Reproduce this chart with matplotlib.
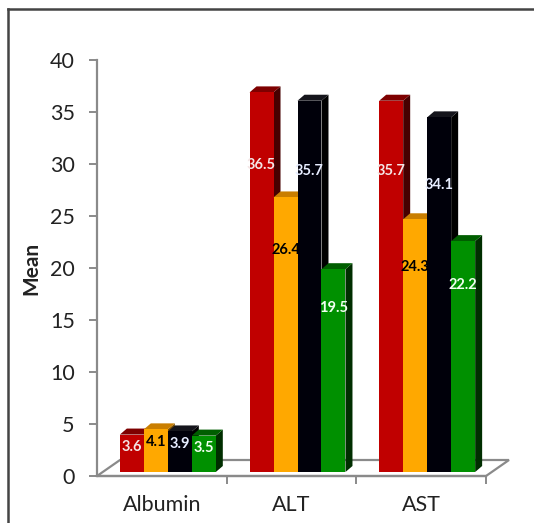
import matplotlib
matplotlib.use("Agg")
import matplotlib.pyplot as plt
from matplotlib.transforms import ScaledTranslation
from matplotlib.patches import Polygon
from matplotlib.lines import Line2D
import numpy as np

plt.rcParams['font.family'] = ['Lato', 'DejaVu Sans']

# ---- data ----
categories = ["Albumin", "ALT", "AST"]
series_red = [3.6, 36.5, 35.7]
series_orange = [4.1, 26.4, 24.3]
series_black = [3.9, 35.7, 34.1]
series_green = [3.5, 19.5, 22.2]
y_ticks = [0, 5, 10, 15, 20, 25, 30, 35, 40]

series = [series_red, series_orange, series_black, series_green]
# (front, top, side, label colour)
palette = [
    ("#C00000", "#7E0000", "#460000", "#F4E6E6"),
    ("#FFA800", "#C97E00", "#7A4E00", "#000000"),
    ("#00000A", "#15151C", "#000000", "#E6ECFF"),
    ("#009000", "#005E00", "#002E00", "#F0FFF0"),
]

W, H = 534, 523
fig = plt.figure(figsize=(W / 100, H / 100), dpi=100)
ax = fig.add_axes([97 / W, 47 / H, 389 / W, 416 / H])
ax.set_xlim(0, 3)
ax.set_ylim(0, 40)

axis_grey = "#8A8A8A"
text_col = "#222222"
for s in ("top", "right"):
    ax.spines[s].set_visible(False)
ax.spines["left"].set_color(axis_grey)
ax.spines["left"].set_linewidth(1.6)
ax.spines["bottom"].set_color(axis_grey)
ax.spines["bottom"].set_linewidth(1.6)

ax.set_yticks(y_ticks)
ax.set_yticklabels([str(t) for t in y_ticks])
ax.tick_params(axis="y", direction="out", length=6, width=1.4, color=axis_grey,
               labelsize=15.5, pad=10, labelcolor=text_col)
ax.set_xticks([1, 2, 3])
ax.set_xticklabels([])
ax.tick_params(axis="x", which="major", direction="out", length=6, width=1.4,
               color=axis_grey)
ax.set_xticks([0.5, 1.5, 2.5], minor=True)
ax.set_xticklabels(categories, minor=True)
ax.tick_params(axis="x", which="minor", length=0, labelsize=15.5, pad=14,
               labelcolor=text_col)
ax.set_ylabel("Mean", fontsize=15, fontweight="bold", labelpad=6, color=text_col)


def shift(dx, dy):
    """Data transform pushed back by (dx, dy) pixels of depth."""
    return ax.transData + ScaledTranslation(dx / 100, dy / 100, fig.dpi_scale_trans)


# floor of the 3-D plot
floor_dx, floor_dy = 23, 16
p0 = ax.transData.transform((0, 0))
p1 = ax.transData.transform((3, 0))
floor = np.array([p0, p1, p1 + (floor_dx, floor_dy), p0 + (floor_dx, floor_dy)])
ax.add_patch(Polygon(floor, closed=True, transform=None, facecolor="white",
                     edgecolor=axis_grey, linewidth=1.6, zorder=1, clip_on=False))

# bars: front face pushed into the floor, plus top and side faces
front_dx, front_dy = 6, 4
depth_dx, depth_dy = 7, 6
width = 0.185
front_tf = shift(front_dx, front_dy)
x_centers = np.arange(len(categories)) + 0.5

for k, (vals, (fc, tc, sc, lc)) in enumerate(zip(series, palette)):
    xs = x_centers + (k - 1.5) * width
    ax.bar(xs, vals, width=width, color=fc, linewidth=0, transform=front_tf,
           zorder=3 + k, clip_on=False)
    for x, v in zip(xs, vals):
        tl = front_tf.transform((x - width / 2, v))
        tr = front_tf.transform((x + width / 2, v))
        br = front_tf.transform((x + width / 2, 0))
        d = np.array([depth_dx, depth_dy])
        ax.add_patch(Polygon([br, tr, tr + d, br + d], transform=None,
                             facecolor=sc, edgecolor="none", zorder=2.6 + k,
                             clip_on=False))
        ax.add_patch(Polygon([tl, tr, tr + d, tl + d], transform=None,
                             facecolor=tc, edgecolor="none", zorder=2.7 + k,
                             clip_on=False))
        ly = min(0.81 * v, v - 1.2)
        ax.text(x, ly, f"{v:.1f}", transform=front_tf, ha="center", va="center",
                fontsize=10.5, fontweight="bold", color=lc, zorder=10, clip_on=False)

# frame around the chart area
fig.add_artist(Line2D([7.5 / W, 7.5 / W], [0, 1 - 8.5 / H], transform=fig.transFigure,
                      color="#444444", linewidth=1.8))
fig.add_artist(Line2D([7.5 / W, 1], [1 - 8.5 / H, 1 - 8.5 / H], transform=fig.transFigure,
                      color="#444444", linewidth=1.8))

fig.savefig("out.png", dpi=100)
